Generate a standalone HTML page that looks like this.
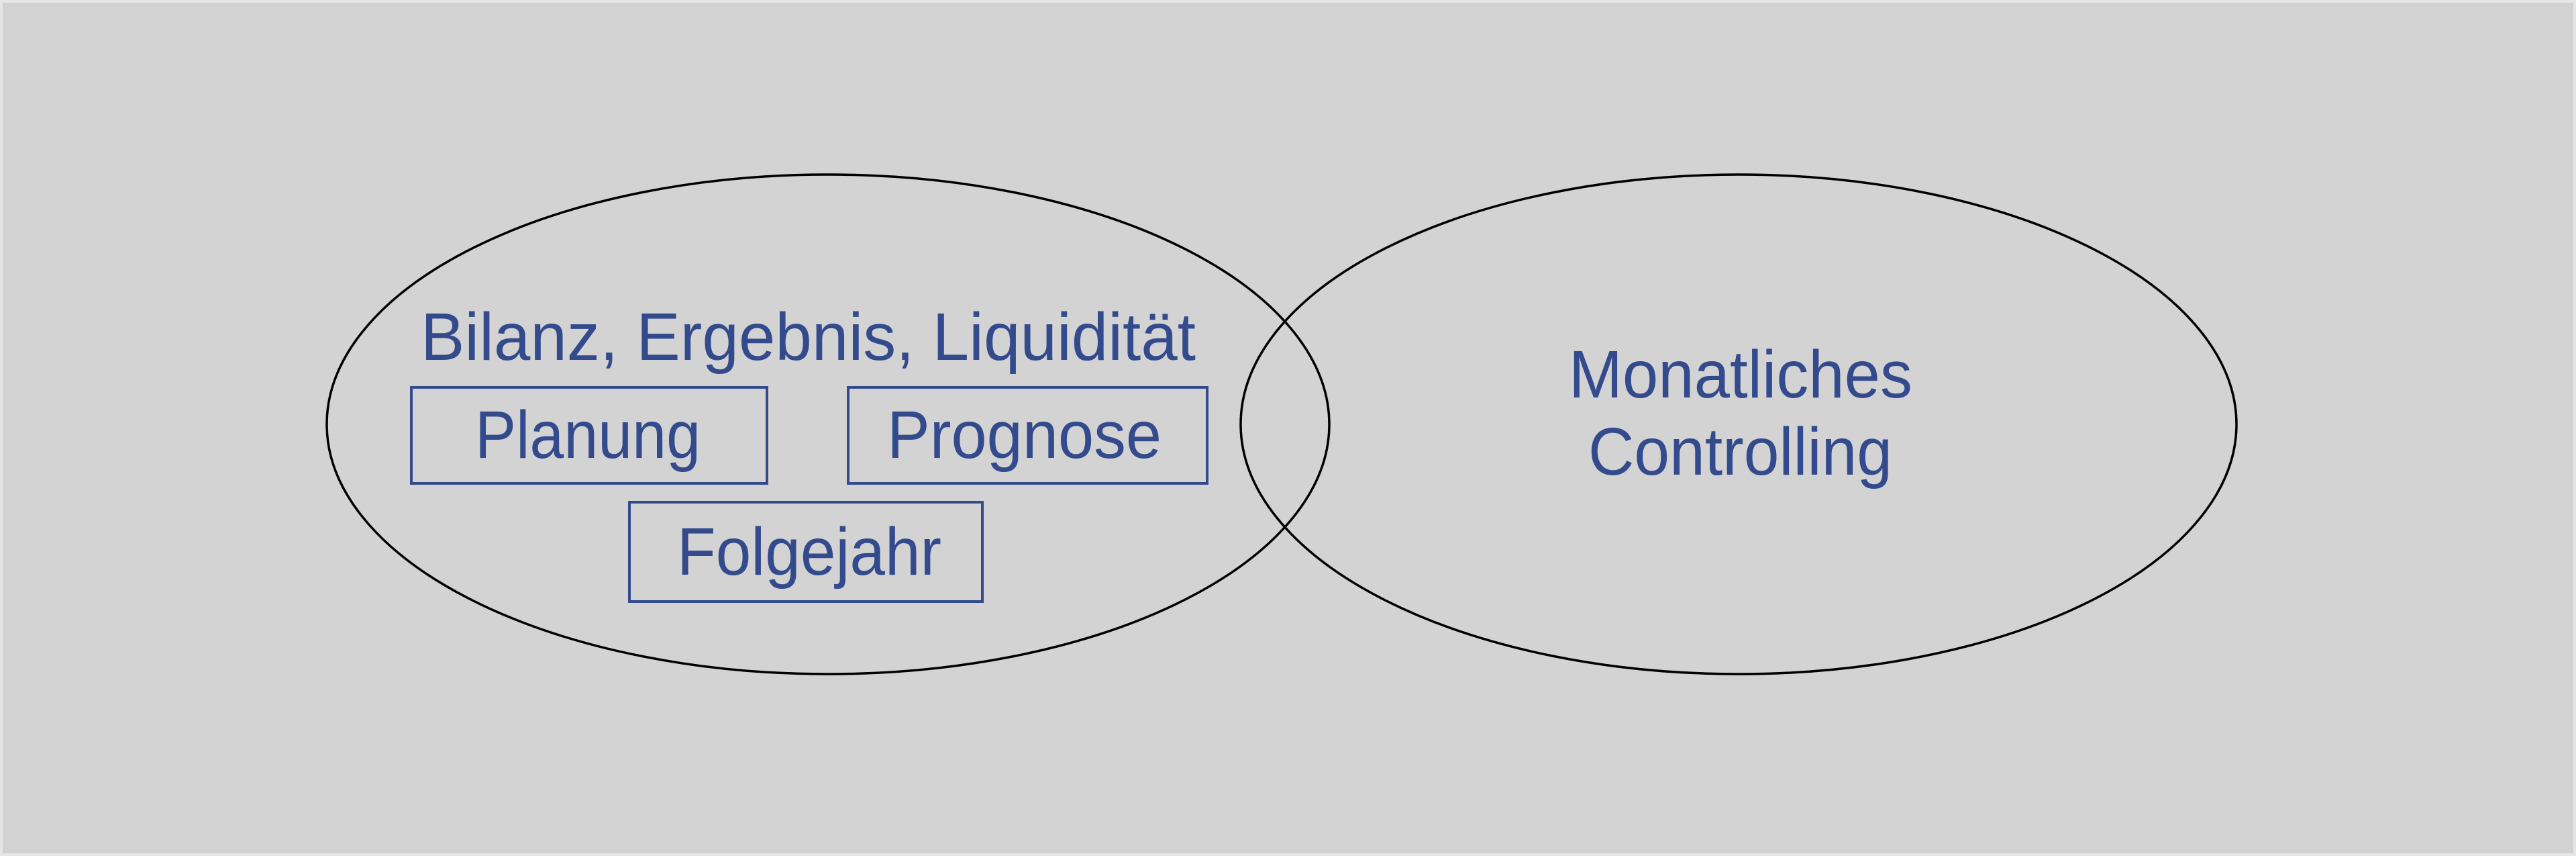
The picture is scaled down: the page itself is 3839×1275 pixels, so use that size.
<!DOCTYPE html>
<html><head><meta charset="utf-8"><style>
html,body{margin:0;padding:0;background:#d3d3d3}
svg{display:block}
text{font-family:"Liberation Sans",sans-serif;fill:#334a8c;font-size:100px}
</style></head><body>
<svg width="3839" height="1275" viewBox="0 0 3839 1275" xmlns="http://www.w3.org/2000/svg">
<rect x="0" y="0" width="3839" height="1275" fill="#d3d3d3" stroke="#e6e6e6" stroke-width="8"/>
<ellipse cx="1234" cy="632" rx="747" ry="372" fill="none" stroke="#000" stroke-width="3.5"/>
<ellipse cx="2591" cy="632" rx="742" ry="372" fill="none" stroke="#000" stroke-width="3.5"/>
<text x="627" y="536" textLength="1155" lengthAdjust="spacingAndGlyphs">Bilanz, Ergebnis, Liquidität</text>
<rect x="613" y="577" width="530" height="143" fill="none" stroke="#334a8c" stroke-width="4"/>
<text x="708" y="682" textLength="336" lengthAdjust="spacingAndGlyphs">Planung</text>
<rect x="1264" y="577" width="535" height="143" fill="none" stroke="#334a8c" stroke-width="4"/>
<text x="1322" y="682" textLength="409" lengthAdjust="spacingAndGlyphs">Prognose</text>
<rect x="938" y="748" width="526" height="148" fill="none" stroke="#334a8c" stroke-width="4"/>
<text x="1009" y="856" textLength="394" lengthAdjust="spacingAndGlyphs">Folgejahr</text>
<text x="2338" y="592" textLength="512" lengthAdjust="spacingAndGlyphs">Monatliches</text>
<text x="2367" y="707" textLength="453" lengthAdjust="spacingAndGlyphs">Controlling</text>
</svg>
</body></html>
